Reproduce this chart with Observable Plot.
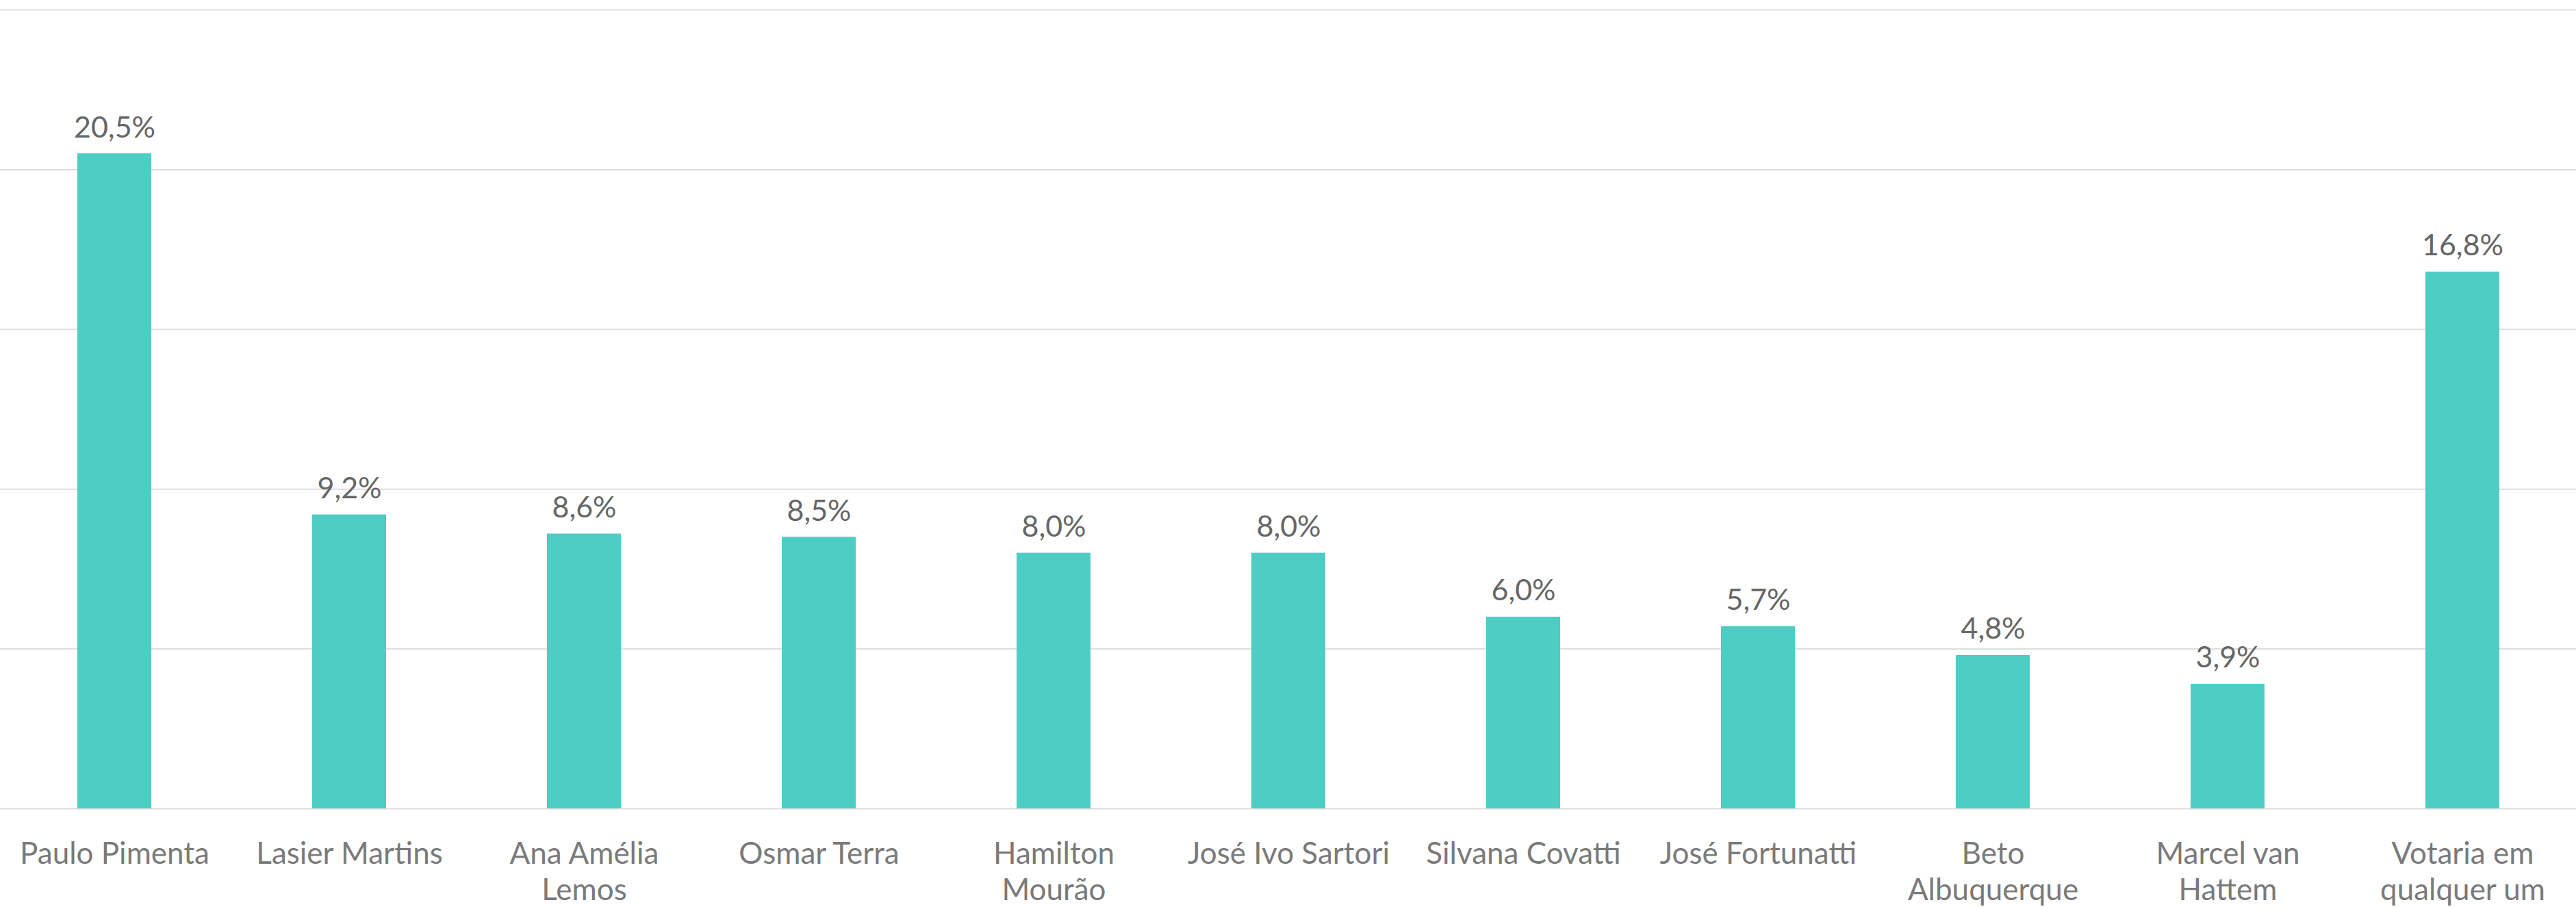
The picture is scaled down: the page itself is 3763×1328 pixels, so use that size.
<!DOCTYPE html>
<html>
<head>
<meta charset="utf-8">
<script src="https://cdn.jsdelivr.net/npm/d3@7"></script>
<script src="https://cdn.jsdelivr.net/npm/@observablehq/plot@0.6"></script>
<style>
  html, body { margin: 0; padding: 0; background: #ffffff; }
</style>
</head>
<body>
<div id="chart"></div>
<script>
const categories = ["Paulo Pimenta", "Lasier Martins", "Ana Amélia Lemos", "Osmar Terra", "Hamilton Mourão", "José Ivo Sartori", "Silvana Covatti", "José Fortunatti", "Beto Albuquerque", "Marcel van Hattem", "Votaria em qualquer um"];
const tickLabels = ["Paulo Pimenta", "Lasier Martins", "Ana Amélia\nLemos", "Osmar Terra", "Hamilton\nMourão", "José Ivo Sartori", "Silvana Covatti", "José Fortunatti", "Beto\nAlbuquerque", "Marcel van\nHattem", "Votaria em\nqualquer um"];
const values = [20.5, 9.2, 8.6, 8.5, 8.0, 8.0, 6.0, 5.7, 4.8, 3.9, 16.8];
const gridTicks = [0, 5, 10, 15, 20, 25];

const data = categories.map((c, i) => ({category: c, label: tickLabels[i], value: values[i]}));
const fmt = v => v.toFixed(1).replace(".", ",") + "%";
const FONT = "Lato, 'Open Sans', sans-serif";

const chart = Plot.plot({
  width: 3763,
  height: 1328,
  marginTop: 14,
  marginBottom: 147,
  marginLeft: -9,
  marginRight: -10,
  style: {fontFamily: FONT, background: "#ffffff", overflow: "hidden", maxWidth: "none"},
  x: {domain: categories, paddingInner: 0.686, paddingOuter: 0.343, axis: null},
  y: {domain: [0, 25], axis: null},
  marks: [
    Plot.ruleY(gridTicks, {stroke: "#dedede", strokeWidth: 2}),
    Plot.barY(data, {x: "category", y: "value", fill: "#4ECDC4"}),
    Plot.text(data, {
      x: "category", y: "value", text: d => fmt(d.value),
      lineAnchor: "bottom", dy: -24, fontSize: 43, fill: "#666666", fontFamily: FONT
    }),
    Plot.text(data, {
      x: "category", text: "label", frameAnchor: "bottom",
      lineAnchor: "top", dy: 43, lineHeight: 1.2, fontSize: 44, fill: "#7a7a7a", fontFamily: FONT
    })
  ]
});
document.getElementById("chart").appendChild(chart);
</script>
</body>
</html>
